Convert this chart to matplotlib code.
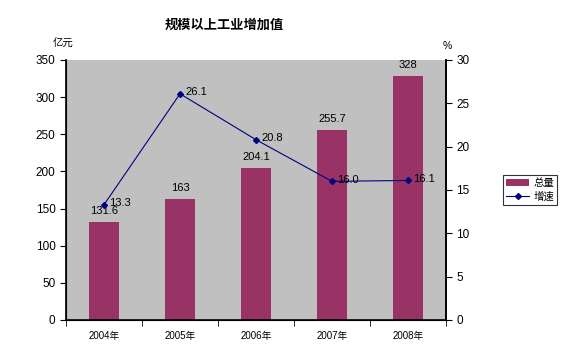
import matplotlib
matplotlib.use("Agg")
import numpy as np
import matplotlib.pyplot as plt
from matplotlib.ticker import MultipleLocator, FixedLocator

plt.rcParams['font.family'] = ['Liberation Sans', 'Noto Sans CJK SC']

# data
years = ["2004年", "2005年", "2006年", "2007年", "2008年"]
total = [131.6, 163, 204.1, 255.7, 328]
total_labels = ["131.6", "163", "204.1", "255.7", "328"]
growth = [13.3, 26.1, 20.8, 16.0, 16.1]
growth_labels = ["13.3", "26.1", "20.8", "16.0", "16.1"]

bar_color = "#993366"
line_color = "#000080"

fig = plt.figure(figsize=(5.66, 3.57), dpi=100)
ax = fig.add_axes([66 / 566, 37 / 357, 380 / 566, 260 / 357])
ax.set_facecolor("#C0C0C0")

x = np.arange(len(years))
bars = ax.bar(x, total, width=0.4, color=bar_color, label="总量", zorder=2)
for xi, v, lab in zip(x, total, total_labels):
    ax.text(xi, v + 8, lab, ha="center", va="bottom", fontsize=8)

ax.set_xlim(-0.5, len(years) - 0.5)
ax.set_ylim(0, 350)
ax.yaxis.set_major_locator(MultipleLocator(50))
ax.set_xticks(x)
ax.set_xticklabels(years, fontsize=7)
ax.xaxis.set_minor_locator(FixedLocator(np.arange(-0.5, len(years), 1)))
ax.tick_params(axis="x", which="major", length=0, pad=8)
ax.tick_params(axis="x", which="minor", length=4, direction="out")
ax.tick_params(axis="y", labelsize=8.5, length=4, direction="out")
ax.spines["top"].set_visible(False)
for s in ["left", "bottom", "right"]:
    ax.spines[s].set_linewidth(1.2)

ax2 = ax.twinx()
line, = ax2.plot(x, growth, color=line_color, linewidth=0.8, marker="D",
                 markersize=3, label="增速", zorder=3)
for xi, v, lab in zip(x, growth, growth_labels):
    ax2.text(xi + 0.07, v + 0.2, lab, ha="left", va="center", fontsize=8)
ax2.set_ylim(0, 30)
ax2.yaxis.set_major_locator(MultipleLocator(5))
ax2.tick_params(axis="y", labelsize=8.5, length=4, direction="out")
ax2.spines["top"].set_visible(False)
ax2.spines["right"].set_linewidth(1.2)

fig.text(224 / 566, 1 - 25 / 357, "规模以上工业增加值", ha="center", va="center",
         fontsize=9.5, fontweight="bold")
fig.text(63 / 566, 1 - 44 / 357, "亿元", ha="center", va="center", fontsize=7.5)
fig.text(447 / 566, 1 - 46 / 357, "%", ha="center", va="center", fontsize=7.5)

leg = fig.legend([bars, line], ["总量", "增速"], loc="upper left",
                 bbox_to_anchor=(503 / 566, 1 - 175 / 357), fontsize=7.5,
                 frameon=True, fancybox=False, edgecolor="black",
                 borderpad=0.3, handlelength=2.2, handletextpad=0.4,
                 labelspacing=0.3, borderaxespad=0)
leg.get_frame().set_linewidth(0.8)

fig.savefig("out.png", dpi=100)
